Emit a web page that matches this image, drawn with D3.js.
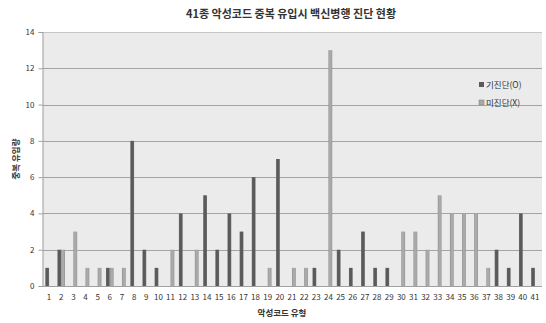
<!DOCTYPE html>
<html>
<head>
<meta charset="utf-8">
<script src="https://cdn.jsdelivr.net/npm/d3@7/dist/d3.min.js"></script>
<style>
  html, body { margin: 0; padding: 0; background: #fff; }
  svg { display: block; }
  text { font-family: "Noto Sans CJK KR", "Noto Sans", sans-serif; fill: #333; }
</style>
</head>
<body>
<svg id="chart" width="546" height="323"></svg>
<script>
// Malware code types 1..41
const categories = ["1","2","3","4","5","6","7","8","9","10","11","12","13","14","15","16","17","18","19","20",
  "21","22","23","24","25","26","27","28","29","30","31","32","33","34","35","36","37","38","39","40","41"];
// 기진단(O): already detected
const detected = [1,2,0,0,0,1,0,8,2,1,0,4,0,5,2,4,3,6,0,7,0,0,1,0,2,1,3,1,1,0,0,0,0,0,0,0,0,2,1,4,1];
// 미진단(X): not detected
const undetected = [0,2,3,1,1,1,1,0,0,0,2,0,2,0,0,0,0,0,1,0,1,1,0,13,0,0,0,0,0,3,3,2,5,4,4,4,1,0,0,0,0];
const seriesNames = ["기진단(O)", "미진단(X)"];
const yTicks = [0,2,4,6,8,10,12,14];

const titleText = "41종 악성코드 중복 유입시 백신병행 진단 현황";
const xTitle = "악성코드 유형";
const yTitle = "중복 유입량";

const svg = d3.select("#chart");
const plot = { left: 42.5, right: 542, top: 32, bottom: 286 };

const defs = svg.append("defs");
function barGradient(id, stops) {
  const g = defs.append("linearGradient").attr("id", id)
    .attr("x1", "0%").attr("x2", "100%").attr("y1", "0%").attr("y2", "0%");
  stops.forEach(([o, c]) => g.append("stop").attr("offset", o).attr("stop-color", c));
}
barGradient("gDark", [["0%", "#6e6e6e"], ["25%", "#5a5a5a"], ["75%", "#5a5a5a"], ["100%", "#757575"]]);
barGradient("gLight", [["0%", "#8f8f8f"], ["30%", "#aaaaaa"], ["70%", "#aaaaaa"], ["100%", "#939393"]]);
const fills = ["url(#gDark)", "url(#gLight)"];

const x0 = d3.scaleBand().domain(categories)
  .range([43, 541]).paddingInner(0.375).paddingOuter(0.1875);
const x1 = d3.scaleBand().domain([0, 1]).range([0, x0.bandwidth()]);
const y = d3.scaleLinear().domain([0, 14]).range([plot.bottom, plot.top]);

// plot background
svg.append("rect")
  .attr("x", plot.left).attr("y", plot.top)
  .attr("width", plot.right - plot.left).attr("height", plot.bottom - plot.top)
  .attr("fill", "#ebebeb");

// gridlines
svg.append("g").selectAll("line").data(yTicks.filter(d => d > 0)).join("line")
  .attr("x1", plot.left).attr("x2", plot.right)
  .attr("y1", d => Math.round(y(d)) + 0.5).attr("y2", d => Math.round(y(d)) + 0.5)
  .attr("stroke", d => d === 14 ? "#c6c6c6" : "#a4a4a4").attr("stroke-width", 1);

// y axis
const yAxis = svg.append("g")
  .attr("transform", `translate(${plot.left},0)`)
  .call(d3.axisLeft(y).tickValues(yTicks).tickSize(4).tickPadding(4).tickFormat(d3.format("d")));
yAxis.select(".domain").attr("stroke", "#a0a0a0");
yAxis.selectAll(".tick line").attr("stroke", "#a0a0a0");
yAxis.selectAll(".tick text").attr("font-size", 8).attr("fill", "#333");

// bars
const groups = svg.append("g").selectAll("g").data(categories).join("g")
  .attr("transform", d => `translate(${x0(d)},0)`);
groups.selectAll("rect")
  .data((d, i) => [detected[i], undetected[i]].map((v, s) => ({ v, s })).filter(o => o.v > 0))
  .join("rect")
  .attr("x", d => x1(d.s))
  .attr("width", x1.bandwidth())
  .attr("y", d => y(d.v))
  .attr("height", d => y(0) - y(d.v))
  .attr("fill", d => fills[d.s]);

// baseline
svg.append("line")
  .attr("x1", plot.left).attr("x2", plot.right)
  .attr("y1", plot.bottom + 0.5).attr("y2", plot.bottom + 0.5)
  .attr("stroke", "#a0a0a0");

// x axis labels
const xAxis = svg.append("g")
  .attr("transform", `translate(0,${plot.bottom})`)
  .call(d3.axisBottom(x0).tickSize(0).tickPadding(8));
xAxis.select(".domain").remove();
xAxis.selectAll(".tick text").attr("font-size", 8).attr("fill", "#333");

// titles
svg.append("text")
  .attr("x", 291).attr("y", 18).attr("text-anchor", "middle")
  .attr("font-size", 11).attr("font-weight", "bold")
  .text(titleText);
svg.append("text")
  .attr("x", 282).attr("y", 316).attr("text-anchor", "middle")
  .attr("font-size", 8.5).attr("font-weight", "bold")
  .text(xTitle);
svg.append("text")
  .attr("transform", "translate(19,159) rotate(-90)")
  .attr("text-anchor", "middle")
  .attr("font-size", 8.5).attr("font-weight", "bold")
  .text(yTitle);

// legend
const legend = svg.append("g").attr("transform", "translate(479,82)");
const legendFill = ["#5a5a5a", "#a8a8a8"];
const item = legend.selectAll("g").data(seriesNames).join("g")
  .attr("transform", (d, i) => `translate(0,${i * 18})`);
item.append("rect")
  .attr("x", 0).attr("y", 0).attr("width", 5).attr("height", 5)
  .attr("fill", (d, i) => legendFill[i])
  .attr("stroke", (d, i) => i === 1 ? "#888" : "none").attr("stroke-width", 0.6);
item.append("text")
  .attr("x", 7).attr("y", 5.5)
  .attr("font-size", 8.5).attr("fill", "#333")
  .text(d => d);
</script>
</body>
</html>
